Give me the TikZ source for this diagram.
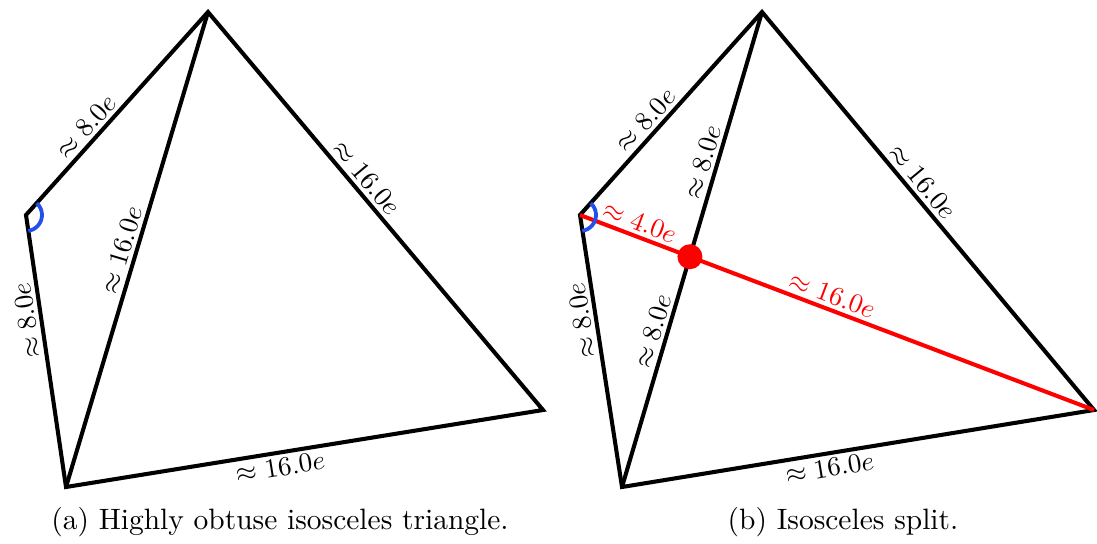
\documentclass[tikz,border=0pt]{standalone}
\usepackage{amsmath,amssymb}
\usetikzlibrary{calc}
\definecolor{angblue}{RGB}{35,80,235}

\begin{document}
\begin{tikzpicture}[x=0.37pt,y=-0.37pt,
  edge/.style={line width=1.5pt,line join=miter},
  len/.style={sloped,inner sep=2pt},
  cut/.style={line width=1.5pt,red},
  ang/.style={line width=1.4pt,angblue},
  subcap/.style={font=\fontsize{10.9pt}{13pt}\selectfont}]
\useasboundingbox (0,0) rectangle (1097,543);
% (a) obtuse triangle
\coordinate (a1) at (26,215);
\coordinate (a2) at (208,12);
\coordinate (a3) at (543,410);
\coordinate (a4) at (66,487);
\draw[edge] (a4) -- (a1) -- (a2) -- (a3) -- cycle;
\draw[edge] (a4) -- (a2);
\path (a1) -- node[len,above,pos=.39] {$\approx 8.0e$} (a2);
\path (a2) -- node[len,above,pos=.44] {$\approx 16.0e$} (a3);
\path (a4) -- node[len,below,pos=.445] {$\approx 16.0e$} (a3);
\path (a4) -- node[len,allow upside down,above,pos=.62] {$\approx 8.0e$} (a1);
\path (a4) -- node[len,above,pos=.49] {$\approx 16.0e$} (a2);
\draw[ang] ($(a1)+(-48:16)$) arc[start angle=-48,end angle=82,radius=16];
% (b) isosceles split
\coordinate (b1) at (580,215);
\coordinate (b2) at (762,12);
\coordinate (b3) at (1094,410);
\coordinate (b4) at (622,487);
\coordinate (p) at (intersection of b1--b3 and b4--b2);
\draw[edge] (b4) -- (b1) -- (b2) -- (b3) -- cycle;
\draw[edge] (b4) -- (b2);
\draw[cut] (b1) -- (b3);
\path (b1) -- node[len,above,pos=.42] {$\approx 8.0e$} (b2);
\path (b2) -- node[len,above,pos=.45] {$\approx 16.0e$} (b3);
\path (b4) -- node[len,below,pos=.435] {$\approx 16.0e$} (b3);
\path (b4) -- node[len,allow upside down,above,pos=.62] {$\approx 8.0e$} (b1);
\path (b4) -- node[len,above,pos=.66] {$\approx 8.0e$} (p);
\path (p) -- node[len,above,pos=.37] {$\approx 8.0e$} (b2);
\path (b1) -- node[len,above,pos=.5,red] {$\approx 4.0e$} (p);
\path (p) -- node[len,above,pos=.34,red] {$\approx 16.0e$} (b3);
\fill[red] (p) circle[radius=12.5];
\draw[ang] ($(b1)+(-48:16)$) arc[start angle=-48,end angle=82,radius=16];
% captions
\node[subcap] (capa) at (280,522) {(a) Highly obtuse isosceles triangle.};
\node[subcap] (capb) at (843,522) {(b) Isosceles split.};
\end{tikzpicture}
\end{document}
